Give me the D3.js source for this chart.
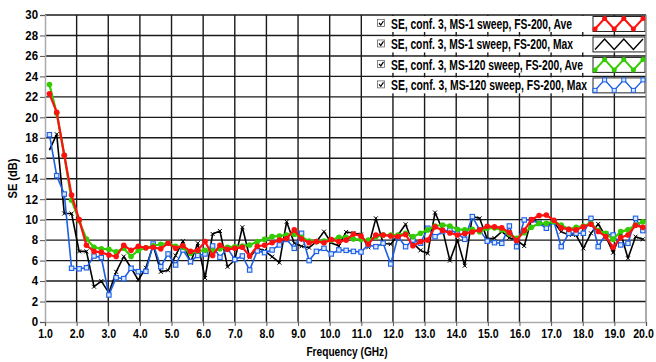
<!DOCTYPE html>
<html>
<head>
<meta charset="utf-8">
<script src="https://cdn.jsdelivr.net/npm/d3@7"></script>
<style>
  body { margin: 0; background: #fff; }
  svg { display: block; }
  text { font-family: "Liberation Sans", Arial, sans-serif; font-weight: bold; fill: #000; }
</style>
</head>
<body>
<svg id="chart" width="656" height="362"></svg>
<script>
// frequency points (GHz)
const freqs = [1.14, 1.37, 1.61, 1.84, 2.08, 2.31, 2.55, 2.78, 3.02, 3.25,
  3.49, 3.72, 3.95, 4.19, 4.42, 4.66, 4.89, 5.13, 5.36, 5.60,
  5.83, 6.06, 6.30, 6.53, 6.77, 7.00, 7.24, 7.47, 7.71, 7.94,
  8.18, 8.41, 8.64, 8.88, 9.11, 9.35, 9.58, 9.82, 10.05, 10.29,
  10.52, 10.75, 10.99, 11.22, 11.46, 11.69, 11.93, 12.16, 12.40, 12.63,
  12.87, 13.10, 13.33, 13.57, 13.80, 14.04, 14.27, 14.51, 14.74, 14.98,
  15.21, 15.44, 15.68, 15.91, 16.15, 16.38, 16.62, 16.85, 17.09, 17.32,
  17.56, 17.79, 18.02, 18.26, 18.49, 18.73, 18.96, 19.20, 19.43, 19.67, 19.90];

// SE, conf. 3, MS-1 sweep, FS-200, Ave
const ms1Ave = [22.3, 20.5, 16.3, 12.4, 10.0, 7.5, 6.9, 6.8, 6.55, 6.4,
  7.5, 7.0, 7.4, 7.25, 7.3, 7.15, 7.7, 7.2, 7.45, 6.9,
  7.0, 7.85, 6.5, 7.5, 7.1, 7.2, 7.3, 6.45, 7.4, 7.5,
  7.75, 8.0, 8.15, 9.0, 8.1, 7.75, 7.85, 7.75, 8.05, 7.85,
  8.0, 8.6, 8.4, 7.6, 8.5, 8.5, 8.4, 8.35, 8.55, 7.45,
  7.85, 8.0, 9.3, 8.95, 8.7, 8.5, 8.65, 8.8, 9.0, 9.35,
  9.3, 9.2, 8.75, 7.95, 8.95, 10.0, 10.4, 10.45, 9.95, 9.2,
  9.05, 9.0, 9.3, 9.55, 8.85, 8.35, 7.3, 8.25, 8.5, 9.45, 9.25];

// SE, conf. 3, MS-1 sweep, FS-200, Max
const ms1Max = [16.8, 18.35, 10.6, 10.6, 6.9, 6.9, 3.45, 4.0, 2.85, 4.9,
  6.4, 5.3, 4.1, 5.3, 7.5, 4.9, 5.05, 6.5, 7.9, 5.8,
  7.7, 4.3, 8.6, 8.9, 5.4, 6.06, 9.26, 6.32, 7.2, 6.97,
  6.38, 5.8, 9.8, 7.69, 7.4, 7.26, 7.85, 8.83, 7.75, 7.43,
  8.8, 8.7, 8.55, 7.3, 10.13, 7.7, 7.6, 8.5, 9.55, 7.7,
  7.0, 6.7, 10.7, 9.0, 6.0, 8.0, 5.5, 10.3, 10.13, 8.1,
  8.2, 8.83, 8.24, 8.0, 7.43, 10.04, 9.71, 9.48, 9.74, 8.83,
  8.5, 8.5, 7.2, 8.67, 9.58, 8.34, 6.78, 8.67, 6.22, 8.34, 8.08];

// SE, conf. 3, MS-120 sweep, FS-200, Ave
const ms120Ave = [23.2, 20.4, 16.3, 11.9, 9.9, 8.1, 7.3, 7.15, 7.1, 6.85,
  7.2, 6.4, 7.0, 7.25, 7.45, 7.6, 7.7, 7.4, 7.3, 6.7,
  6.95, 7.0, 6.95, 7.15, 7.3, 7.36, 7.43, 7.53, 7.85, 8.07,
  8.34, 8.41, 8.5, 8.57, 8.28, 7.92, 7.85, 7.92, 8.0, 8.28,
  8.28, 8.1, 8.05, 8.0, 8.34, 8.5, 8.5, 8.5, 8.67, 8.34,
  8.67, 9.0, 9.38, 9.48, 9.38, 9.06, 9.0, 9.06, 8.83, 9.16,
  9.2, 9.0, 8.6, 8.18, 8.73, 9.26, 9.64, 9.64, 9.8, 9.48,
  9.06, 9.26, 9.38, 9.64, 8.93, 8.67, 8.08, 8.83, 9.0, 9.48, 9.8];

// SE, conf. 3, MS-120 sweep, FS-200, Max
const ms120Max = [18.3, 14.3, 12.5, 5.25, 5.2, 5.3, 6.45, 6.3, 2.64, 4.33,
  4.24, 5.25, 4.92, 4.95, 7.62, 5.4, 6.65, 5.57, 7.04, 5.9,
  6.5, 6.65, 7.43, 6.32, 7.2, 6.1, 6.45, 5.08, 6.94, 6.78,
  7.04, 7.53, 8.07, 7.2, 8.67, 6.0, 6.9, 7.2, 6.65, 7.04,
  7.0, 6.9, 6.84, 7.53, 7.36, 7.7, 5.67, 8.34, 7.36, 8.0,
  7.7, 9.16, 8.34, 8.83, 9.0, 8.67, 8.08, 10.3, 9.0, 7.9,
  7.75, 7.69, 9.38, 7.36, 9.97, 9.97, 9.64, 9.16, 9.8, 7.36,
  8.67, 8.67, 8.67, 10.13, 7.36, 8.6, 8.5, 7.53, 7.69, 10.13, 8.93];

const seriesNames = [
  "SE, conf. 3, MS-1 sweep, FS-200, Ave",
  "SE, conf. 3, MS-1 sweep, FS-200, Max",
  "SE, conf. 3, MS-120 sweep, FS-200, Ave",
  "SE, conf. 3, MS-120 sweep, FS-200, Max"
];
const seriesValues = [ms1Ave, ms1Max, ms120Ave, ms120Max];
const seriesColors = ["#ff1010", "#000000", "#33cc00", "#1a5fe6"];
const seriesMarkers = ["dot", "cross", "dot", "square"];

const xTicks = d3.range(1, 21);
const yTicks = d3.range(0, 31, 2);

const svg = d3.select("#chart");
const x = d3.scaleLinear().domain([1, 20]).range([45, 646]);
const y = d3.scaleLinear().domain([0, 30]).range([322, 15]);

// squeeze a text horizontally, the original uses a narrow bold face
function squeeze(sel, k) {
  sel.each(function () {
    const w = this.getComputedTextLength();
    d3.select(this).attr("textLength", w * k).attr("lengthAdjust", "spacingAndGlyphs");
  });
}

// grid
const grid = svg.append("g");
grid.selectAll(".hg")
  .data(yTicks.filter(d => d > 0))
  .enter().append("line")
  .attr("x1", x(1)).attr("x2", x(20))
  .attr("y1", d => y(d)).attr("y2", d => y(d))
  .attr("stroke", "#1a1a1a").attr("stroke-width", 1.4);
grid.selectAll(".vg")
  .data(xTicks.filter(d => d > 1))
  .enter().append("line")
  .attr("x1", d => x(d)).attr("x2", d => x(d))
  .attr("y1", y(30)).attr("y2", y(0))
  .attr("stroke", d => d === 20 ? "#888" : "#1a1a1a").attr("stroke-width", 1.4);

// axes
const yAxis = svg.append("g")
  .attr("transform", `translate(${x(1)},0)`)
  .call(d3.axisLeft(y).tickValues(yTicks).tickSize(5).tickPadding(2).tickFormat(d3.format("d")));
const xAxis = svg.append("g")
  .attr("transform", `translate(0,${y(0)})`)
  .call(d3.axisBottom(x).tickValues(xTicks).tickSize(4).tickPadding(3).tickFormat(d3.format(".1f")));
[yAxis, xAxis].forEach(a => {
  a.select(".domain").attr("stroke", "#aaa").attr("stroke-width", 1.5);
  a.selectAll(".tick line").attr("stroke", "#555");
  a.selectAll(".tick text").style("font-size", "12px").attr("fill", "#000");
});
squeeze(yAxis.selectAll(".tick text"), 0.95);
squeeze(xAxis.selectAll(".tick text"), 0.88);
xAxis.selectAll(".tick text").filter(d => d === 20).attr("dx", -3);

svg.append("text")
  .attr("transform", `translate(17,${(y(0) + y(30)) / 2 + 10}) rotate(-90)`)
  .attr("text-anchor", "middle")
  .style("font-size", "13px")
  .text("SE (dB)")
  .call(squeeze, 0.85);
svg.append("text")
  .attr("x", 347).attr("y", 356)
  .attr("text-anchor", "middle")
  .style("font-size", "13px")
  .text("Frequency (GHz)")
  .call(squeeze, 0.78);

// series (drawn bottom to top: black, blue, green, red)
const line = d3.line().x((d, i) => x(freqs[i])).y(d => y(d));
const order = [1, 3, 2, 0];

function drawMarkers(g, vals, kind, color) {
  const pts = vals.map((v, i) => [x(freqs[i]), y(v)]);
  if (kind === "dot") {
    g.selectAll("circle").data(pts).enter().append("circle")
      .attr("cx", d => d[0]).attr("cy", d => d[1]).attr("r", 2.8).attr("fill", color);
  } else if (kind === "square") {
    g.selectAll("rect").data(pts).enter().append("rect")
      .attr("x", d => d[0] - 2.2).attr("y", d => d[1] - 2.2)
      .attr("width", 4.4).attr("height", 4.4)
      .attr("fill", "#dbe6ff").attr("stroke", color).attr("stroke-width", 1.1);
  } else {
    g.selectAll("path").data(pts).enter().append("path")
      .attr("d", d => `M${d[0] - 2},${d[1] - 2}L${d[0] + 2},${d[1] + 2}M${d[0] - 2},${d[1] + 2}L${d[0] + 2},${d[1] - 2}`)
      .attr("stroke", color).attr("stroke-width", 1);
  }
}

order.forEach(k => {
  const g = svg.append("g");
  const wide = seriesMarkers[k] === "dot";
  g.append("path")
    .datum(seriesValues[k])
    .attr("d", line)
    .attr("fill", "none")
    .attr("stroke", seriesColors[k])
    .attr("stroke-width", wide ? 2.2 : 1.6)
    .attr("stroke-linejoin", "round");
  drawMarkers(g, seriesValues[k], seriesMarkers[k], seriesColors[k]);
});

// legend, rows sit between the horizontal grid lines at the top
const legendWidths = [181, 182, 192, 196];
const legend = svg.append("g");
seriesNames.forEach((name, i) => {
  const top = y(30 - 2 * i) + 1;
  const bottom = y(28 - 2 * i) - 3.5;
  const mid = (top + bottom) / 2;
  const row = legend.append("g");
  row.append("rect")
    .attr("x", x(11) + 1).attr("y", top)
    .attr("width", x(20) - x(11) - 1).attr("height", bottom - top)
    .attr("fill", "#fff");
  // checkbox
  row.append("rect")
    .attr("x", 377.5).attr("y", mid - 4.5).attr("width", 7).attr("height", 7)
    .attr("fill", "#fff").attr("stroke", "#666").attr("stroke-width", 0.8);
  row.append("path")
    .attr("d", `M379,${mid - 1}L380.8,${mid + 1}L383.5,${mid - 3}`)
    .attr("fill", "none").attr("stroke", "#000").attr("stroke-width", 1.2);
  row.append("text")
    .attr("x", 391).attr("y", mid + 5)
    .style("font-size", "14px")
    .attr("textLength", legendWidths[i])
    .attr("lengthAdjust", "spacingAndGlyphs")
    .text(name);
  // swatch
  const sx = 593, sw = 52;
  row.append("rect")
    .attr("x", sx).attr("y", top + 0.5).attr("width", sw).attr("height", bottom - top - 1)
    .attr("fill", "#fff").attr("stroke", "#222").attr("stroke-width", 1);
  const zz = d3.range(6).map(j => [sx + 2 + j * (sw - 4) / 5, j % 2 === 0 ? bottom - 3 : top + 2.5]);
  row.append("path")
    .attr("d", d3.line()(zz))
    .attr("fill", "none").attr("stroke", seriesColors[i])
    .attr("stroke-width", seriesMarkers[i] === "dot" ? 2 : 1.4);
  const mg = row.append("g");
  const kind = seriesMarkers[i];
  zz.forEach(p => {
    if (kind === "dot") {
      mg.append("circle").attr("cx", p[0]).attr("cy", p[1]).attr("r", 2.5).attr("fill", seriesColors[i]);
    } else if (kind === "square") {
      mg.append("rect").attr("x", p[0] - 2).attr("y", p[1] - 2).attr("width", 4).attr("height", 4)
        .attr("fill", "#dbe6ff").attr("stroke", seriesColors[i]).attr("stroke-width", 1);
    }
  });
});
</script>
</body>
</html>
